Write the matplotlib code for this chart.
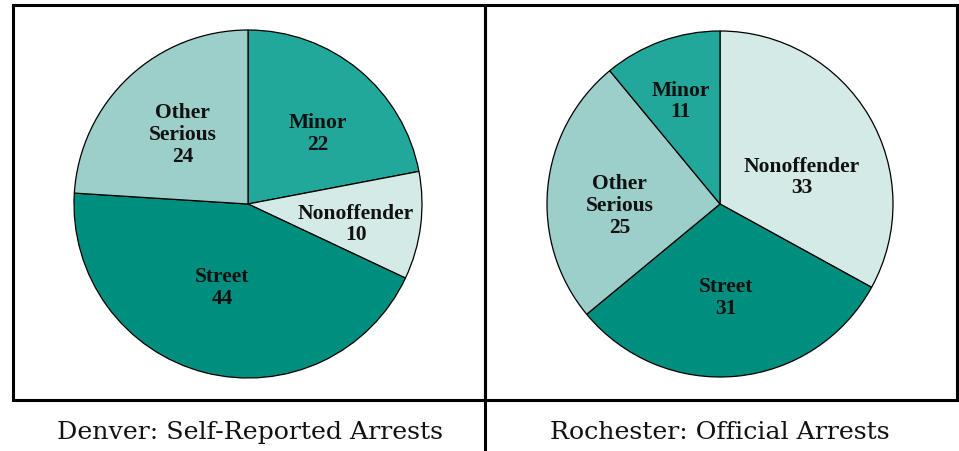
"""Two pies: Denver self-reported vs Rochester official arrests by offender type."""

import numpy as np
import matplotlib
matplotlib.use("Agg")
import matplotlib.pyplot as plt
from matplotlib.patches import Rectangle

# data (clockwise from 12 o'clock)
denver_labels = ["Minor", "Nonoffender", "Street", "Other\nSerious"]
denver_values = [22, 10, 44, 24]
rochester_labels = ["Nonoffender", "Street", "Other\nSerious", "Minor"]
rochester_values = [33, 31, 25, 11]
titles = ["Denver: Self-Reported Arrests", "Rochester: Official Arrests"]

colors = {
    "Minor": "#21a89b",
    "Nonoffender": "#d4eae6",
    "Street": "#008f7e",
    "Other\nSerious": "#9dcfca",
}

W, H = 959, 452
fig = plt.figure(figsize=(W / 100, H / 100), dpi=100)
ax = fig.add_axes([0, 0, 1, 1])


def draw_pie(labels, values, center, radius, label_pos):
    wedges, _ = ax.pie(values, colors=[colors[l] for l in labels],
                       startangle=90, counterclock=False, center=center,
                       radius=radius, frame=True,
                       wedgeprops=dict(edgecolor="black", linewidth=0.9))
    for w, lab, val, (dang, rf) in zip(wedges, labels, values, label_pos):
        mid = np.deg2rad((w.theta1 + w.theta2) / 2 + dang)
        x = center[0] + rf * radius * np.cos(mid)
        y = center[1] + rf * radius * np.sin(mid)
        ax.text(x, y, f"{lab}\n{val}", ha="center", va="center",
                fontsize=15.5, fontweight="bold", family="Liberation Serif",
                linespacing=1.12, color="#111111")


# (angle offset in degrees, fraction of radius) per wedge
draw_pie(denver_labels, denver_values, (248, H - 205), 174,
         [(-5, 0.57), (-3, 0.63), (-3, 0.5), (0, 0.55)])
draw_pie(rochester_labels, rochester_values, (720, H - 205), 173,
         [(-12, 0.5), (-2, 0.54), (6, 0.58), (1, 0.64)])

# panel frames
lw = 2.2
for x0, x1 in [(13, 485), (485, 957)]:
    ax.add_patch(Rectangle((x0, H - 401), x1 - x0, 395, fill=False,
                           edgecolor="black", linewidth=lw, zorder=5))
ax.plot([485, 485], [0, H - 401], color="black", linewidth=lw, zorder=5)

for cx, t in zip([250, 720], titles):
    ax.text(cx, H - 433, t, ha="center", va="center", fontsize=18.2,
            family="DejaVu Serif", color="#111111")

ax.set_xlim(0, W)
ax.set_ylim(0, H)
ax.set_aspect("auto")
ax.axis("off")

fig.savefig("out.png", dpi=100)
